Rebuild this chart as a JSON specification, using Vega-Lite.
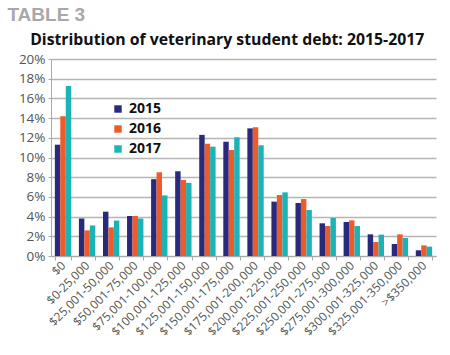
{
  "$schema": "https://vega.github.io/schema/vega-lite/v6.json",
  "padding": {"left": 7, "top": 6, "right": 8, "bottom": 5},
  "background": "white",
  "title": {"text": "TABLE 3", "anchor": "start", "fontSize": 19, "fontWeight": "bold", "color": "#a8a8a8", "font": "Liberation Sans", "frame": "bounds", "offset": 7, "dx": -11},
  "config": {
    "font": "Open Sans",
    "view": {"stroke": null}
  },
  "datasets": {
    "debt": [
      {"cat": "$0", "year": "2015", "v": 0.113}, {"cat": "$0", "year": "2016", "v": 0.142}, {"cat": "$0", "year": "2017", "v": 0.1725},
      {"cat": "$0-25,000", "year": "2015", "v": 0.038}, {"cat": "$0-25,000", "year": "2016", "v": 0.026}, {"cat": "$0-25,000", "year": "2017", "v": 0.031},
      {"cat": "$25,001-50,000", "year": "2015", "v": 0.045}, {"cat": "$25,001-50,000", "year": "2016", "v": 0.029}, {"cat": "$25,001-50,000", "year": "2017", "v": 0.036},
      {"cat": "$50,001-75,000", "year": "2015", "v": 0.0406}, {"cat": "$50,001-75,000", "year": "2016", "v": 0.0406}, {"cat": "$50,001-75,000", "year": "2017", "v": 0.038},
      {"cat": "$75,001-100,000", "year": "2015", "v": 0.078}, {"cat": "$75,001-100,000", "year": "2016", "v": 0.085}, {"cat": "$75,001-100,000", "year": "2017", "v": 0.0615},
      {"cat": "$100,001-125,000", "year": "2015", "v": 0.086}, {"cat": "$100,001-125,000", "year": "2016", "v": 0.0772}, {"cat": "$100,001-125,000", "year": "2017", "v": 0.0743},
      {"cat": "$125,001-150,000", "year": "2015", "v": 0.123}, {"cat": "$125,001-150,000", "year": "2016", "v": 0.114}, {"cat": "$125,001-150,000", "year": "2017", "v": 0.111},
      {"cat": "$150,001-175,000", "year": "2015", "v": 0.116}, {"cat": "$150,001-175,000", "year": "2016", "v": 0.1076}, {"cat": "$150,001-175,000", "year": "2017", "v": 0.1205},
      {"cat": "$175,001-200,000", "year": "2015", "v": 0.1296}, {"cat": "$175,001-200,000", "year": "2016", "v": 0.1306}, {"cat": "$175,001-200,000", "year": "2017", "v": 0.1124},
      {"cat": "$200,001-225,000", "year": "2015", "v": 0.0552}, {"cat": "$200,001-225,000", "year": "2016", "v": 0.0619}, {"cat": "$200,001-225,000", "year": "2017", "v": 0.0646},
      {"cat": "$225,001-250,000", "year": "2015", "v": 0.0538}, {"cat": "$225,001-250,000", "year": "2016", "v": 0.0578}, {"cat": "$225,001-250,000", "year": "2017", "v": 0.0467},
      {"cat": "$250,001-275,000", "year": "2015", "v": 0.0332}, {"cat": "$250,001-275,000", "year": "2016", "v": 0.0305}, {"cat": "$250,001-275,000", "year": "2017", "v": 0.0386},
      {"cat": "$275,001-300,000", "year": "2015", "v": 0.0345}, {"cat": "$275,001-300,000", "year": "2016", "v": 0.0362}, {"cat": "$275,001-300,000", "year": "2017", "v": 0.0305},
      {"cat": "$300,001-325,000", "year": "2015", "v": 0.022}, {"cat": "$300,001-325,000", "year": "2016", "v": 0.0142}, {"cat": "$300,001-325,000", "year": "2017", "v": 0.0217},
      {"cat": "$325,001-350,000", "year": "2015", "v": 0.0122}, {"cat": "$325,001-350,000", "year": "2016", "v": 0.022}, {"cat": "$325,001-350,000", "year": "2017", "v": 0.0183},
      {"cat": ">$350,000", "year": "2015", "v": 0.0058}, {"cat": ">$350,000", "year": "2016", "v": 0.0108}, {"cat": ">$350,000", "year": "2017", "v": 0.0095}
    ]
  },
  "vconcat": [
    {
      "title": {"text": "Distribution of veterinary student debt: 2015-2017", "anchor": "middle", "fontSize": 15.8, "fontWeight": "bold", "color": "#111111", "font": "Open Sans", "offset": 3, "frame": "bounds"},
      "width": 385,
      "height": 197,
      "data": {"name": "debt"},
      "mark": {"type": "bar"},
      "encoding": {
        "x": {
          "field": "cat", "type": "nominal", "sort": null, "title": null,
          "scale": {"paddingInner": 0.32, "paddingOuter": 0.16},
          "axis": {"labelAngle": -45, "labelAlign": "right", "labelBaseline": "middle", "labelFontSize": 12, "labelColor": "#555555", "labelPadding": 3, "tickBand": "extent", "ticks": true, "tickSize": 4, "tickColor": "#aaaaaa", "domainColor": "#aaaaaa", "grid": false, "labelOverlap": false}
        },
        "xOffset": {"field": "year", "type": "nominal", "scale": {"paddingInner": 0, "paddingOuter": 0}},
        "y": {
          "field": "v", "type": "quantitative", "title": null,
          "scale": {"domain": [0, 0.2], "nice": false},
          "axis": {"values": [0, 0.02, 0.04, 0.06, 0.08, 0.1, 0.12, 0.14, 0.16, 0.18, 0.2], "format": ".0%", "labelFontSize": 13.5, "labelColor": "#555555", "labelPadding": 3, "tickSize": 3, "tickColor": "#aaaaaa", "domain": true, "domainColor": "#aaaaaa", "gridColor": "#b5b5b5", "gridWidth": 1.3}
        },
        "color": {
          "field": "year", "type": "nominal",
          "scale": {"domain": ["2015", "2016", "2017"], "range": ["#2a2a7c", "#ee5a2a", "#1bb3b6"]},
          "legend": {"title": null, "orient": "none", "legendX": 60, "legendY": 43, "symbolType": "square", "symbolSize": 55, "symbolStrokeWidth": 0, "labelFontSize": 14, "labelFontWeight": "bold", "labelColor": "#111111", "rowPadding": 6, "labelOffset": 4}
        }
      }
    }
  ]
}
